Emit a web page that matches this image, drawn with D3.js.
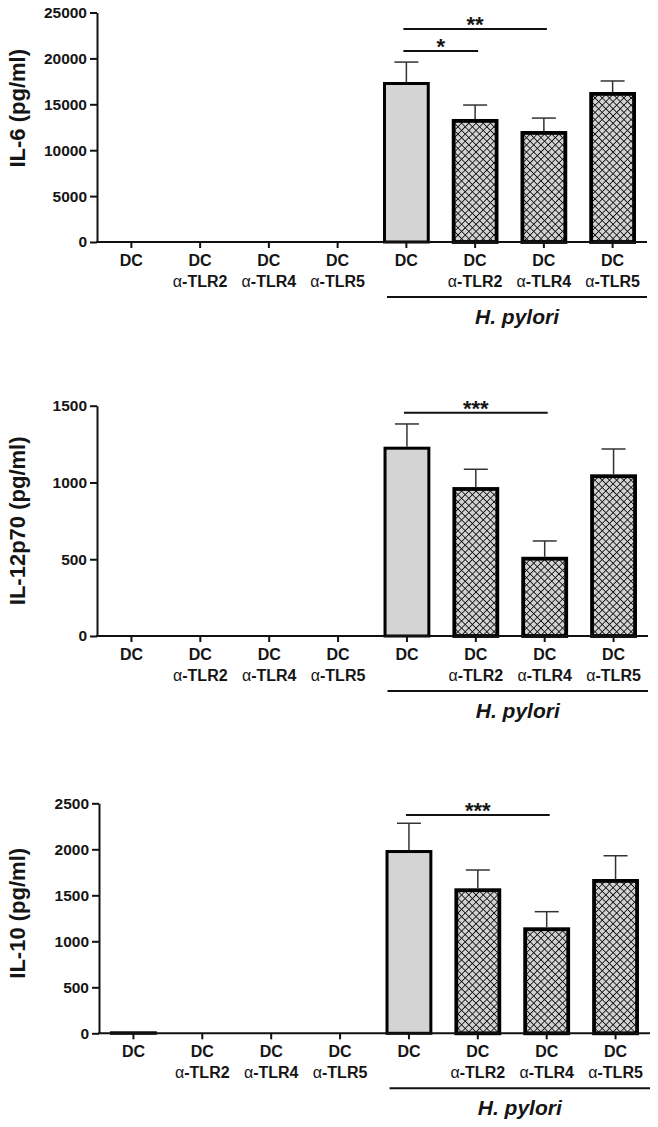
<!DOCTYPE html>
<html>
<head>
<meta charset="utf-8">
<script src="https://cdn.jsdelivr.net/npm/d3@7"></script>
<style>
  body { margin: 0; background: #fff; }
  svg text { font-family: Arial, "Liberation Sans", sans-serif; fill: #151515; }
</style>
</head>
<body>
<div id="chart"></div>
<script>
var width = 658,
    height = 1127;

// categories
var line1 = ["DC", "DC", "DC", "DC", "DC", "DC", "DC", "DC"];
var line2 = ["", "TLR2", "TLR4", "TLR5", "", "TLR2", "TLR4", "TLR5"];
var hatched = [false, true, true, true, false, true, true, true];

// IL-6
var il6 = [0, 0, 0, 0, 17430, 13400, 12090, 16340];
var il6Err = [0, 0, 0, 0, 2170, 1520, 1410, 1200];
var il6Ticks = [0, 5000, 10000, 15000, 20000, 25000];
var il6Sig = [{from: 4, to: 5, v: 20800, label: "*"}, {from: 4, to: 6, v: 23200, label: "**"}];

// IL-12p70
var il12 = [0, 0, 0, 0, 1233, 970, 516, 1053];
var il12Err = [0, 0, 0, 0, 148, 116, 103, 165];
var il12Ticks = [0, 500, 1000, 1500];
var il12Sig = [{from: 4, to: 6, v: 1454, label: "***"}];

// IL-10
var il10 = [15, 0, 0, 0, 1992, 1576, 1152, 1677];
var il10Err = [0, 0, 0, 0, 291, 199, 170, 253];
var il10Ticks = [0, 500, 1000, 1500, 2000, 2500];
var il10Sig = [{from: 4, to: 6, v: 2373, label: "***"}];

var panels = [
    {title: "IL-6 (pg/ml)", vals: il6, err: il6Err, ticks: il6Ticks, sig: il6Sig,
     top: 12.5, bottom: 242, left: 97, right: 647, labelShift: -19},
    {title: "IL-12p70 (pg/ml)", vals: il12, err: il12Err, ticks: il12Ticks, sig: il12Sig,
     top: 405.7, bottom: 636, left: 97, right: 648, labelShift: 0},
    {title: "IL-10 (pg/ml)", vals: il10, err: il10Err, ticks: il10Ticks, sig: il10Sig,
     top: 803.3, bottom: 1033.3, left: 99, right: 650, labelShift: -5}
];

var svg = d3.select("#chart").append("svg")
    .attr("width", width)
    .attr("height", height);

// cross hatch fill
var hs = 5.1;
var pat = svg.append("defs").append("pattern")
    .attr("id", "hatch")
    .attr("patternUnits", "userSpaceOnUse")
    .attr("width", hs)
    .attr("height", hs)
    .attr("patternTransform", "rotate(45)");
pat.append("rect").attr("width", hs).attr("height", hs).attr("fill", "#d2d2d2");
pat.append("line").attr("x1", 0).attr("y1", 0).attr("x2", hs).attr("y2", 0)
    .attr("stroke", "#111").attr("stroke-width", 1.7);
pat.append("line").attr("x1", 0).attr("y1", 0).attr("x2", 0).attr("y2", hs)
    .attr("stroke", "#111").attr("stroke-width", 1.7);

panels.forEach(function (p) {
    var maxV = p.ticks[p.ticks.length - 1];
    var y = d3.scaleLinear().domain([0, maxV]).range([p.bottom, p.top]);
    var x = d3.scaleBand().domain(d3.range(line1.length))
        .range([p.left, p.right])
        .paddingInner(0.32)
        .paddingOuter(0.16);
    var bw = x.bandwidth();
    var g = svg.append("g");

    // bars
    p.vals.forEach(function (v, i) {
        if (v <= 0) return;
        var sw = hatched[i] ? 3.8 : 3;
        g.append("rect")
            .attr("x", x(i) + sw / 2)
            .attr("y", Math.min(y(v) + sw / 2, y(0) - 0.5))
            .attr("width", bw - sw)
            .attr("height", Math.max(0.5, y(0) - y(v) - sw / 2))
            .attr("fill", hatched[i] ? "url(#hatch)" : "#d4d4d4")
            .attr("stroke", "#000")
            .attr("stroke-width", sw);
        if (p.err[i] > 0) {
            var cx = x(i) + bw / 2;
            g.append("line")
                .attr("x1", cx).attr("x2", cx)
                .attr("y1", y(v)).attr("y2", y(v + p.err[i]))
                .attr("stroke", "#333").attr("stroke-width", 1.5);
            g.append("line")
                .attr("x1", cx - 12).attr("x2", cx + 12)
                .attr("y1", y(v + p.err[i])).attr("y2", y(v + p.err[i]))
                .attr("stroke", "#333").attr("stroke-width", 1.5);
        }
    });

    // y axis
    var yAxis = g.append("g")
        .attr("transform", "translate(" + p.left + ",0)")
        .call(d3.axisLeft(y).tickValues(p.ticks).tickFormat(d3.format("d"))
            .tickSize(7).tickSizeOuter(0).tickPadding(3));
    yAxis.select(".domain").attr("stroke", "#111").attr("stroke-width", 2);
    yAxis.selectAll(".tick line").attr("stroke", "#111").attr("stroke-width", 2);
    yAxis.selectAll(".tick text")
        .style("font-size", "15.5px").style("font-weight", "bold")
        .style("font-family", "Arial, 'Liberation Sans', sans-serif")
        .attr("fill", "#151515");

    // x axis
    var xAxis = g.append("g")
        .attr("transform", "translate(0," + p.bottom + ")")
        .call(d3.axisBottom(x).tickSize(6).tickSizeOuter(0).tickFormat(""));
    xAxis.select(".domain").attr("stroke", "#111").attr("stroke-width", 2)
        .attr("d", "M" + (p.left - 1) + ",0H" + p.right);
    xAxis.selectAll(".tick line").attr("stroke", "#111").attr("stroke-width", 2);

    // category labels
    line1.forEach(function (t, i) {
        var cx = x(i) + bw / 2;
        g.append("text")
            .attr("x", cx).attr("y", p.bottom + 24)
            .attr("text-anchor", "middle")
            .style("font-size", "16px").style("font-weight", "bold")
            .text(t);
        if (line2[i]) {
            var t2 = g.append("text")
                .attr("x", cx).attr("y", p.bottom + 45)
                .attr("text-anchor", "middle")
                .style("font-size", "16px").style("font-weight", "bold");
            t2.append("tspan").style("font-weight", "normal").text("\u03b1");
            t2.append("tspan").text("-" + line2[i]);
        }
    });

    // H. pylori bracket
    var hx0 = x(4) + 4, hx1 = p.right;
    g.append("line")
        .attr("x1", hx0).attr("x2", hx1)
        .attr("y1", p.bottom + 55).attr("y2", p.bottom + 55)
        .attr("stroke", "#111").attr("stroke-width", 2);
    g.append("text")
        .attr("x", (hx0 + hx1) / 2).attr("y", p.bottom + 82)
        .attr("text-anchor", "middle")
        .style("font-size", "21px").style("font-weight", "bold").style("font-style", "italic")
        .text("H. pylori");

    // significance lines
    p.sig.forEach(function (s) {
        var a = x(s.from) + bw / 2 - 3, b = x(s.to) + bw / 2 + 3;
        g.append("line")
            .attr("x1", a).attr("x2", b)
            .attr("y1", y(s.v)).attr("y2", y(s.v))
            .attr("stroke", "#111").attr("stroke-width", 2);
        g.append("text")
            .attr("x", (a + b) / 2).attr("y", y(s.v) + 3)
            .attr("text-anchor", "middle")
            .style("font-size", "22px").style("font-weight", "bold")
            .text(s.label);
    });

    // y title
    var mid = (p.top + p.bottom) / 2 + p.labelShift;
    g.append("text")
        .attr("transform", "translate(17," + mid + ") rotate(-90)")
        .attr("text-anchor", "middle")
        .attr("dominant-baseline", "central")
        .style("font-size", "22px").style("font-weight", "bold")
        .text(p.title);
});
</script>
</body>
</html>
